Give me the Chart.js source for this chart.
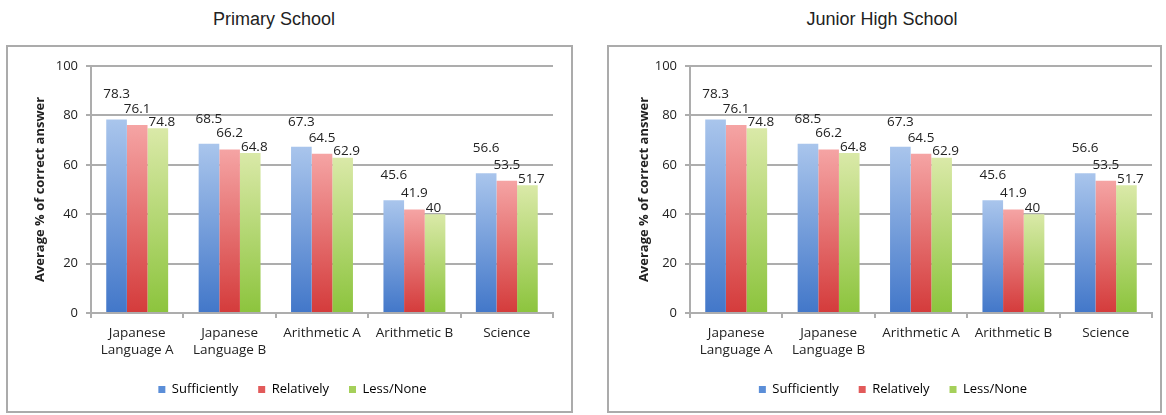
<!DOCTYPE html>
<html>
<head>
<meta charset="utf-8">
<script src="https://cdn.jsdelivr.net/npm/chart.js@4.4.1/dist/chart.umd.min.js"></script>
<style>
  html, body { margin: 0; padding: 0; background: #fff; width: 1166px; height: 415px; overflow: hidden; }
  .title { position: absolute; top: 9px; font-family: "Liberation Sans", Arial, sans-serif; font-size: 18px; color: #222; text-align: center; }
  .panel { position: absolute; top: 45px; height: 368px; box-sizing: border-box; border: 2px solid #ababab; background: #fff; }
  .panel canvas { display: block; }
</style>
</head>
<body>
<div class="title" style="left:124px;width:300px">Primary School</div>
<div class="panel" style="left:6px;width:567px"><canvas id="primary" width="563" height="364"></canvas></div>
<div class="title" style="left:732px;width:300px">Junior High School</div>
<div class="panel" style="left:607px;width:555px"><canvas id="junior" width="551" height="364"></canvas></div>

<script>
// Subjects along the x axis (multi-line labels as arrays)
const subjects = [['Japanese', 'Language A'], ['Japanese', 'Language B'], 'Arithmetic A', 'Arithmetic B', 'Science'];
const seriesNames = ['Sufficiently', 'Relatively', 'Less/None'];

// Average % of correct answers, primary school
const primarySufficiently = [78.3, 68.5, 67.3, 45.6, 56.6];
const primaryRelatively   = [76.1, 66.2, 64.5, 41.9, 53.5];
const primaryLessNone     = [74.8, 64.8, 62.9, 40, 51.7];

// Average % of correct answers, junior high school
const juniorSufficiently = [78.3, 68.5, 67.3, 45.6, 56.6];
const juniorRelatively   = [76.1, 66.2, 64.5, 41.9, 53.5];
const juniorLessNone     = [74.8, 64.8, 62.9, 40, 51.7];

// Value axis
const yMin = 0;
const yMax = 100;
const yStep = 20;
const yTitle = 'Average % of correct answer';

// Styling per series: gradient stops, legend swatch, value label placement
const seriesStyles = [
  { top: '#a9c5ec', bottom: '#4277c9', swatch: '#5b8ed8', label: { align: 'center', dx: 0, dy: 25 } },
  { top: '#f5a4a4', bottom: '#d43b3b', swatch: '#e25a5a', label: { align: 'center', dx: 0, dy: 16 } },
  { top: '#dae9a8', bottom: '#8cc43d', swatch: '#a5d05a', label: { align: 'left', dx: 1, dy: 6 } }
];

Chart.defaults.font.family = '"Open Sans", "Liberation Sans", sans-serif';
Chart.defaults.color = '#222';

function barFill(style) {
  return (c) => {
    const chart = c.chart;
    if (c.type !== 'data' || !chart.chartArea || !c.parsed) return style.bottom;
    const ys = chart.scales.y;
    const yTop = ys.getPixelForValue(c.parsed.y);
    const yBase = ys.getPixelForValue(0);
    if (!isFinite(yTop) || !isFinite(yBase) || yTop === yBase) return style.bottom;
    const g = chart.ctx.createLinearGradient(0, yTop, 0, yBase);
    g.addColorStop(0, style.top);
    g.addColorStop(1, style.bottom);
    return g;
  };
}

// Draws each bar's value above it
const barValueLabels = {
  id: 'barValueLabels',
  afterDatasetsDraw(chart) {
    const ctx = chart.ctx;
    ctx.save();
    ctx.font = '13.5px "Open Sans", sans-serif';
    ctx.fillStyle = '#222';
    ctx.textBaseline = 'middle';
    chart.data.datasets.forEach((ds, i) => {
      const meta = chart.getDatasetMeta(i);
      const lab = seriesStyles[i].label;
      meta.data.forEach((bar, j) => {
        let x = bar.x + lab.dx;
        if (lab.align === 'left') x = bar.x - bar.width / 2 + lab.dx;
        ctx.textAlign = lab.align;
        ctx.fillText(String(ds.data[j]), x, bar.y - lab.dy);
      });
    });
    ctx.restore();
  }
};

function makeChart(canvasId, values, geo) {
  const gridColor = '#adadad';
  return new Chart(document.getElementById(canvasId), {
    type: 'bar',
    data: {
      labels: subjects,
      datasets: values.map((arr, i) => ({
        label: seriesNames[i],
        data: arr,
        backgroundColor: barFill(seriesStyles[i]),
        borderWidth: 0,
        categoryPercentage: 0.67,
        barPercentage: 1.0
      }))
    },
    options: {
      responsive: false,
      animation: false,
      devicePixelRatio: 1,
      layout: { padding: { left: geo.padLeft, right: geo.padRight, top: 19, bottom: 5 } },
      plugins: {
        legend: {
          position: 'bottom',
          labels: {
            boxWidth: 7,
            boxHeight: 7,
            padding: 20,
            font: { size: 13 },
            color: '#222',
            generateLabels: (chart) => chart.data.datasets.map((ds, i) => ({
              text: ds.label,
              fillStyle: seriesStyles[i].swatch,
              strokeStyle: seriesStyles[i].swatch,
              lineWidth: 0,
              hidden: false,
              datasetIndex: i
            }))
          }
        },
        tooltip: { enabled: false }
      },
      scales: {
        x: {
          grid: { display: true, drawOnChartArea: false, drawTicks: true, tickLength: 5, color: gridColor, lineWidth: 2, offset: true },
          border: { display: true, color: gridColor, width: 2 },
          ticks: { font: { size: 13.5, lineHeight: 1.3 }, color: '#222', padding: 6, maxRotation: 0, autoSkip: false },
          afterFit(s) { s.height = 50; }
        },
        y: {
          min: yMin,
          max: yMax,
          ticks: { stepSize: yStep, font: { size: 13 }, padding: 8, color: '#222' },
          grid: { color: gridColor, lineWidth: 2, tickLength: 5 },
          border: { display: true, color: gridColor, width: 2 },
          title: { display: true, text: yTitle, font: { size: 13, weight: 'bold' }, color: '#222', padding: { top: geo.titlePad, bottom: 0 } },
          afterFit(s) { s.width = geo.axisWidth; }
        }
      }
    },
    plugins: [barValueLabels]
  });
}

makeChart('primary', [primarySufficiently, primaryRelatively, primaryLessNone],
  { padLeft: 24, padRight: 18, axisWidth: 59, titlePad: 0 });
makeChart('junior', [juniorSufficiently, juniorRelatively, juniorLessNone],
  { padLeft: 25, padRight: 8, axisWidth: 56, titlePad: 2 });
</script>
</body>
</html>
